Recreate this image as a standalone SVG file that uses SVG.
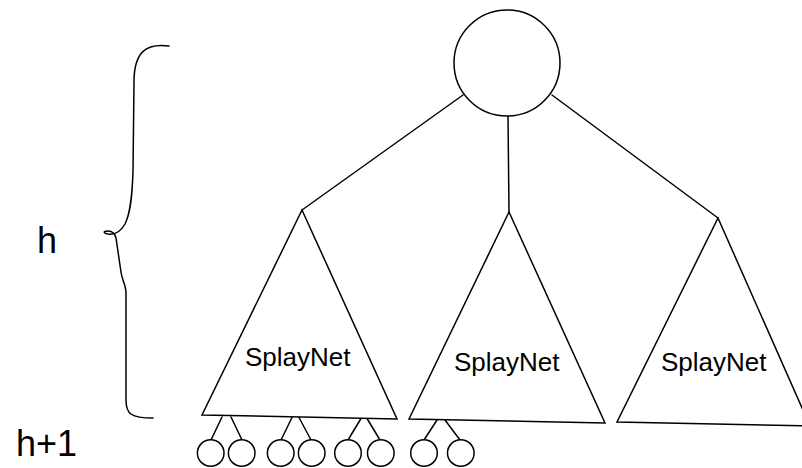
<svg xmlns="http://www.w3.org/2000/svg" width="802" height="468" viewBox="0 0 802 468">
  <style>
    .ln { fill: none; stroke: #000; stroke-width: 1.5; stroke-linejoin: round; stroke-linecap: round; }
    .nd { fill: #fff; stroke: #000; stroke-width: 1.5; }
    .lbl { font-family: "Liberation Sans", Arial, sans-serif; font-size: 26px; fill: #000; }
    .big { font-family: "Liberation Sans", Arial, sans-serif; font-size: 36px; fill: #000; }
  </style>
  <rect width="802" height="468" fill="#fff"/>

  <!-- height brace and labels -->
  <g id="brace">
    <path class="ln" stroke-width="2" d="M169,46 C146,43 134,52 134,82 L133,172 C132,200 130,214 125,224 C121,231 115,235 108,234 C103,233 103,231 108,231 C113,231 115,234 116,238 L121,272 C122,280 126,285 126,293 L126,400 C126,414 131,418 153,418"/>
  </g>
  <g id="label-h"><text class="big" x="37" y="253">h</text></g>
  <g id="label-h1"><text class="big" x="16" y="456">h+1</text></g>

  <!-- connectors -->
  <g id="edges">
    <line class="ln" x1="463" y1="95" x2="302" y2="210"/>
    <line class="ln" x1="508" y1="116" x2="509" y2="212"/>
    <line class="ln" x1="552" y1="95" x2="718" y2="218"/>
    <!-- leaf links -->
    <line class="ln" x1="222" y1="417" x2="211" y2="440"/>
    <line class="ln" x1="231" y1="417" x2="242" y2="440"/>
    <line class="ln" x1="292" y1="417.5" x2="281" y2="440"/>
    <line class="ln" x1="299" y1="417.5" x2="311" y2="440"/>
    <line class="ln" x1="361" y1="418.5" x2="348" y2="440"/>
    <line class="ln" x1="367" y1="418.5" x2="380" y2="440"/>
    <line class="ln" x1="437" y1="420" x2="424" y2="440"/>
    <line class="ln" x1="445" y1="420" x2="460" y2="440"/>
  </g>

  <g id="root"><circle class="nd" cx="507" cy="63" r="53"/></g>

  <g id="subtree-1">
    <polygon class="nd" points="302,210 397,419 202,415"/>
    <text class="lbl" x="245" y="366">SplayNet</text>
  </g>
  <g id="subtree-2">
    <polygon class="nd" points="509,212 605,423 409,419"/>
    <text class="lbl" x="454" y="371">SplayNet</text>
  </g>
  <g id="subtree-3">
    <polygon class="nd" points="718,218 810,426 617,422"/>
    <text class="lbl" x="661" y="371">SplayNet</text>
  </g>

  <g id="leaves">
    <circle class="nd" cx="210.7" cy="453" r="13.3"/>
    <circle class="nd" cx="241.7" cy="453" r="13.3"/>
    <circle class="nd" cx="280.7" cy="453" r="13.3"/>
    <circle class="nd" cx="311.7" cy="453" r="13.3"/>
    <circle class="nd" cx="348" cy="453" r="13.3"/>
    <circle class="nd" cx="380.8" cy="453" r="13.3"/>
    <circle class="nd" cx="424" cy="453" r="13.3"/>
    <circle class="nd" cx="460.8" cy="453" r="13.3"/>
  </g>
</svg>
